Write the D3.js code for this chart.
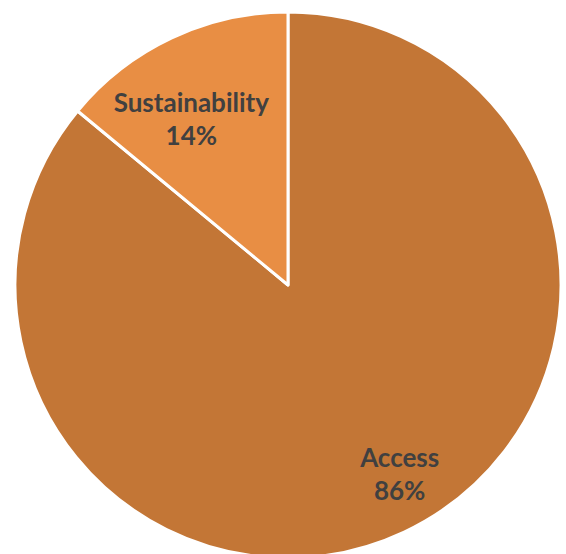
<!DOCTYPE html>
<html>
<head>
<meta charset="utf-8">
<script src="https://cdn.jsdelivr.net/npm/d3@7"></script>
<style>
  body { margin: 0; background: #fff; }
  text { font-family: Lato, "Open Sans", sans-serif; font-weight: bold; fill: #404040; }
</style>
</head>
<body>
<svg id="chart"></svg>
<script>
const categories = ['Access', 'Sustainability'];
const shares = [86, 14];
const colors = ['#C37636', '#E88E44'];

const width = 566, height = 554;
const cx = 288, cy = 285, radius = 273;

// label placement inside each slice: fraction of radius, and angle shift (deg)
const labelRadius = [0.806, 0.70];
const labelShift = [-5.3, -5.2];

const svg = d3.select('#chart')
    .attr('width', width)
    .attr('height', height);

const data = categories.map((c, i) => ({ name: c, value: shares[i] }));

const pie = d3.pie()
    .value(d => d.value)
    .sort(null);

const arc = d3.arc()
    .innerRadius(0)
    .outerRadius(radius);

const labelPos = (d, i) => {
    const a = (d.startAngle + d.endAngle) / 2 + labelShift[i] * Math.PI / 180;
    const r = radius * labelRadius[i];
    return [r * Math.sin(a), -r * Math.cos(a)];
};

const g = svg.append('g')
    .attr('transform', `translate(${cx},${cy})`);

const slices = g.selectAll('g.slice').data(pie(data))
    .enter().append('g')
        .attr('class', 'slice');

slices.append('path')
    .attr('d', arc)
    .attr('fill', (d, i) => colors[i])
    .attr('stroke', '#fff')
    .attr('stroke-width', 3)
    .attr('stroke-linejoin', 'round');

const labels = slices.append('text')
    .attr('text-anchor', 'middle')
    .attr('font-size', 26)
    .attr('transform', (d, i) => `translate(${labelPos(d, i)})`);

labels.append('tspan')
    .attr('x', 0)
    .attr('dy', -8)
    .text(d => d.data.name);

labels.append('tspan')
    .attr('x', 0)
    .attr('dy', 33)
    .text(d => `${d.data.value}%`);
</script>
</body>
</html>
